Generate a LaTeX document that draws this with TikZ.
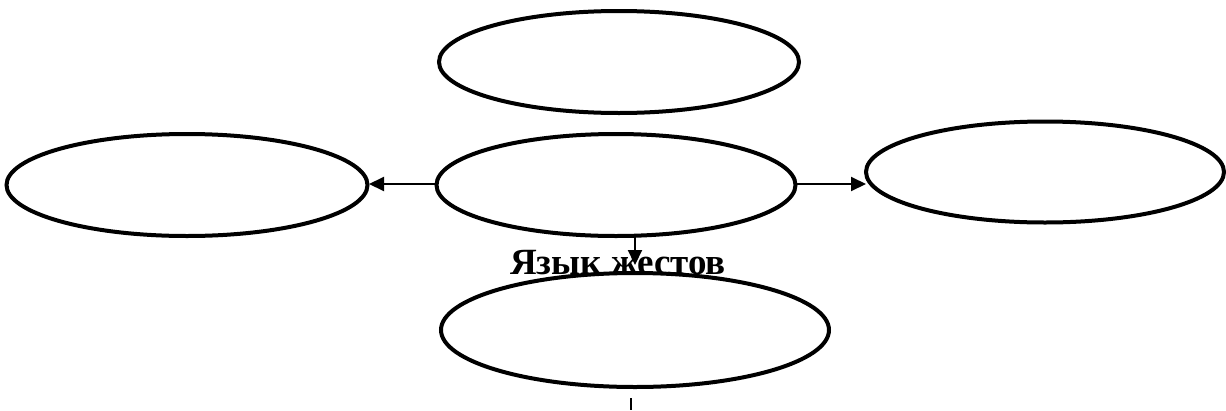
\documentclass[tikz,border=0pt]{standalone}
\usepackage{fontspec}
\setmainfont{Liberation Serif}
\usetikzlibrary{shapes.geometric,arrows.meta}
\begin{document}
\begin{tikzpicture}[x=1pt,y=-1pt,
  oval/.style={draw,line width=4pt,ellipse,inner sep=0pt},
  conn/.style={line width=2pt,-{Triangle[length=15pt,width=14pt]}}]
\useasboundingbox (0,0) rectangle (1226,410);
\node[oval,minimum width=360pt,minimum height=102pt] (top) at (619,62) {};
\node[oval,minimum width=359pt,minimum height=102pt] (mid) at (616,185) {};
\node[oval,minimum width=361pt,minimum height=102pt] (left) at (187,185) {};
\node[oval,minimum width=358pt,minimum height=101pt] (right) at (1045,172) {};
\node[oval,minimum width=388pt,minimum height=114pt] (bot) at (635,330) {};
\node[font=\bfseries\fontsize{37}{37}\selectfont,inner sep=0pt,anchor=base] (lab) at (618,274) {Язык жестов};
\coordinate (ml) at (437,184);
\coordinate (mr) at (797,184);
\coordinate (md) at (635,237);
\coordinate (lt) at (369,184);
\coordinate (rt) at (866,184);
\coordinate (dt) at (635,265);
\draw[conn] (ml) -- (lt);
\draw[conn] (mr) -- (rt);
\draw[conn] (md) -- (dt);
\coordinate (bs) at (631,398);
\coordinate (be) at (631,410);
\draw[line width=2pt] (bs) -- (be);
\end{tikzpicture}
\end{document}
